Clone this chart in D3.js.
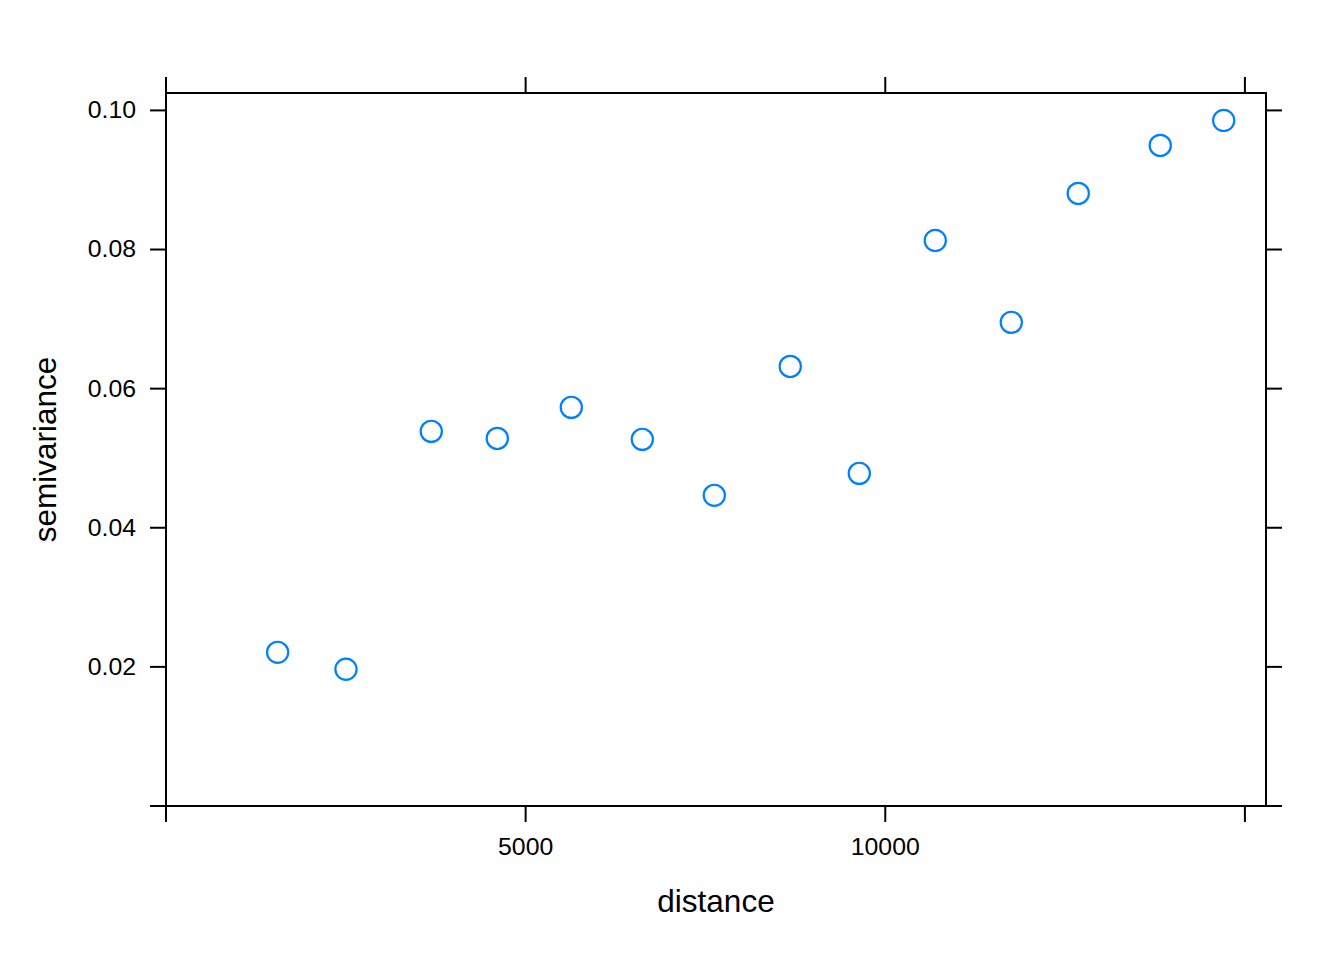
<!DOCTYPE html>
<html>
<head>
<meta charset="utf-8">
<script src="https://cdn.jsdelivr.net/npm/d3@7"></script>
<style>
  html, body { margin: 0; padding: 0; background: #fff; }
  svg { display: block; }
  text { font-family: "Liberation Sans", Arial, sans-serif; fill: #000; }
</style>
</head>
<body>
<svg id="chart" width="1344" height="960"></svg>
<script>
// Data
const dist = [1552, 2502, 3688, 4606, 5635, 6622, 7623, 8679, 9639, 10695, 11752, 12683, 13823, 14705];
const gamma = [0.02209, 0.01965, 0.05386, 0.05285, 0.05731, 0.05271, 0.04466, 0.06320, 0.04782, 0.08131, 0.06953, 0.08807, 0.09497, 0.09856];
const xTicks = [0, 5000, 10000, 15000];
const xTickLabels = ["", "5000", "10000", ""];
const yTicks = [0, 0.02, 0.04, 0.06, 0.08, 0.10];
const yTickLabels = ["", "0.02", "0.04", "0.06", "0.08", "0.10"];
const xLabel = "distance";
const yLabel = "semivariance";

const panel = { left: 166, right: 1266, top: 93, bottom: 806 };
const svg = d3.select("#chart");

const x = d3.scaleLinear().domain([0, 1.04 * d3.max(dist)]).range([panel.left, panel.right]);
const y = d3.scaleLinear().domain([0, 1.04 * d3.max(gamma)]).range([panel.bottom, panel.top]);

const tickLen = 16;
const tickFont = "24.8px";

function styleAxis(g) {
  g.select(".domain").remove();
  g.selectAll(".tick line").attr("stroke", "#000").attr("stroke-width", 2);
  g.selectAll(".tick text").style("font-size", tickFont).style("font-family", '"Liberation Sans", Arial, sans-serif').attr("fill", "#000");
}

// Bottom axis
svg.append("g")
  .attr("transform", `translate(0,${panel.bottom})`)
  .call(d3.axisBottom(x).offset(0).tickValues(xTicks).tickSize(tickLen).tickPadding(15)
    .tickFormat((d, i) => xTickLabels[i]))
  .call(styleAxis);

// Top axis (ticks only)
svg.append("g")
  .attr("transform", `translate(0,${panel.top})`)
  .call(d3.axisTop(x).offset(0).tickValues(xTicks).tickSize(tickLen).tickFormat(() => ""))
  .call(styleAxis);

// Left axis
svg.append("g")
  .attr("transform", `translate(${panel.left},0)`)
  .call(d3.axisLeft(y).offset(0).tickValues(yTicks).tickSize(tickLen).tickPadding(14)
    .tickFormat((d, i) => yTickLabels[i]))
  .call(styleAxis);

// Right axis (ticks only)
svg.append("g")
  .attr("transform", `translate(${panel.right},0)`)
  .call(d3.axisRight(y).offset(0).tickValues(yTicks).tickSize(tickLen).tickFormat(() => ""))
  .call(styleAxis);

// Panel border
svg.append("rect")
  .attr("x", panel.left).attr("y", panel.top)
  .attr("width", panel.right - panel.left).attr("height", panel.bottom - panel.top)
  .attr("fill", "none").attr("stroke", "#000").attr("stroke-width", 2);

// Points
svg.append("clipPath").attr("id", "clip").append("rect")
  .attr("x", panel.left).attr("y", panel.top)
  .attr("width", panel.right - panel.left).attr("height", panel.bottom - panel.top);

svg.append("g").attr("clip-path", "url(#clip)")
  .selectAll("circle")
  .data(dist.map((d, i) => ({ d, g: gamma[i] })))
  .join("circle")
  .attr("cx", p => x(p.d))
  .attr("cy", p => y(p.g))
  .attr("r", 10.6)
  .attr("fill", "none")
  .attr("stroke", "#0080ff")
  .attr("stroke-width", 2.2);

// Axis labels
svg.append("text")
  .attr("x", (panel.left + panel.right) / 2)
  .attr("y", 911.5)
  .attr("text-anchor", "middle")
  .style("font-size", "31.5px")
  .text(xLabel);

svg.append("text")
  .attr("transform", `translate(56,${(panel.top + panel.bottom) / 2}) rotate(-90)`)
  .attr("text-anchor", "middle")
  .style("font-size", "31.5px")
  .text(yLabel);
</script>
</body>
</html>
